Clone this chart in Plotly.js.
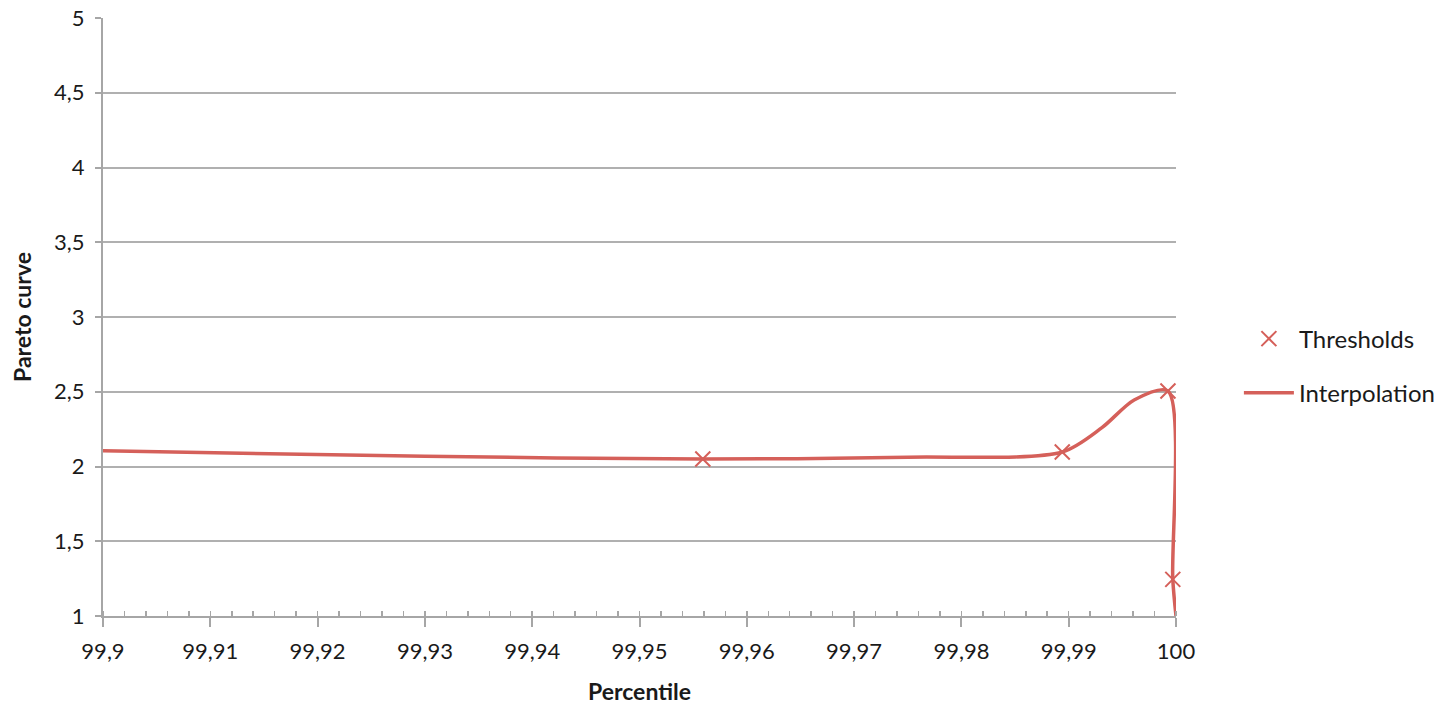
<!DOCTYPE html>
<html>
<head>
<meta charset="utf-8">
<script src="https://cdn.plot.ly/plotly-3.0.1.min.js"></script>
<style>html,body{margin:0;padding:0;background:#fff;}#chart{width:1449px;height:710px;}</style>
</head>
<body>
<div id="chart"></div>
<script>
// Threshold points
var thresholdX = [99.9559, 99.9894, 99.99925, 99.9997];
var thresholdY = [2.05, 2.097, 2.505, 1.245];
// Interpolation curve points
var curveX = [99.9, 99.93, 99.9559, 99.975, 99.9894, 99.9931, 99.9961, 99.99925, 99.9997, 100];
var curveY = [2.105, 2.068, 2.05, 2.062, 2.097, 2.26, 2.445, 2.505, 1.245, 1.0];
// Tick labels
var xTickVals = [99.9, 99.91, 99.92, 99.93, 99.94, 99.95, 99.96, 99.97, 99.98, 99.99, 100];
var xTickText = ['99,9', '99,91', '99,92', '99,93', '99,94', '99,95', '99,96', '99,97', '99,98', '99,99', '100'];
var yTickVals = [1, 1.5, 2, 2.5, 3, 3.5, 4, 4.5, 5];
var yTickText = ['1', '1,5', '2', '2,5', '3', '3,5', '4', '4,5', '5'];

var red = '#d5605a';
var font = 'Lato, "Open Sans", sans-serif';
var txt = '#1a1a1a';

var traces = [
  {
    x: thresholdX, y: thresholdY, type: 'scatter', mode: 'markers', name: 'Thresholds',
    legendgroup: 'a',
    marker: {symbol: 'x-thin-open', size: 15, color: red, line: {color: red, width: 2}},
    cliponaxis: false
  },
  {
    x: curveX, y: curveY, type: 'scatter', mode: 'lines', name: 'Interpolation',
    legendgroup: 'b',
    line: {color: red, width: 3.5, shape: 'spline', smoothing: 0.8},
    cliponaxis: false
  }
];

var layout = {
  width: 1449, height: 710,
  margin: {l: 103, r: 273, t: 18, b: 94},
  paper_bgcolor: '#fff', plot_bgcolor: '#fff',
  font: {family: font, size: 22, color: txt},
  xaxis: {
    range: [99.9, 100], tickmode: 'array', tickvals: xTickVals, ticktext: xTickText,
    showgrid: false, zeroline: false, showline: true, linecolor: '#a6a6a6', linewidth: 2,
    ticks: 'outside', ticklen: 9, tickwidth: 2, tickcolor: '#a6a6a6',
    ticklabelstandoff: 6,
    minor: {dtick: 0.002, tick0: 99.9, ticks: 'inside', ticklen: 5, tickwidth: 1.5, tickcolor: '#a6a6a6', showgrid: false},
    tickfont: {size: 22, family: font, color: txt},
    title: {text: '<b>Percentile</b>', font: {size: 23, family: font, color: txt}, standoff: 20}
  },
  yaxis: {
    range: [1, 5], tickmode: 'array', tickvals: yTickVals, ticktext: yTickText,
    showgrid: true, gridcolor: '#b0b0b0', gridwidth: 2, zeroline: false,
    showline: true, linecolor: '#a6a6a6', linewidth: 2,
    ticks: 'outside', ticklen: 6, tickwidth: 2, tickcolor: '#a6a6a6',
    ticklabelstandoff: 6,
    tickfont: {size: 22, family: font, color: txt},
    title: {text: '<b>Pareto curve</b>', font: {size: 23, family: font, color: txt}, standoff: 16}
  },
  showlegend: true,
  legend: {xref: 'container', x: 0.855, y: 0.418, xanchor: 'left', yanchor: 'middle',
    traceorder: 'grouped', tracegroupgap: 20,
    font: {size: 24, family: font, color: txt}, itemwidth: 50, bgcolor: 'rgba(0,0,0,0)'}
};

Plotly.newPlot('chart', traces, layout, {displayModeBar: false, staticPlot: true});
</script>
</body>
</html>
